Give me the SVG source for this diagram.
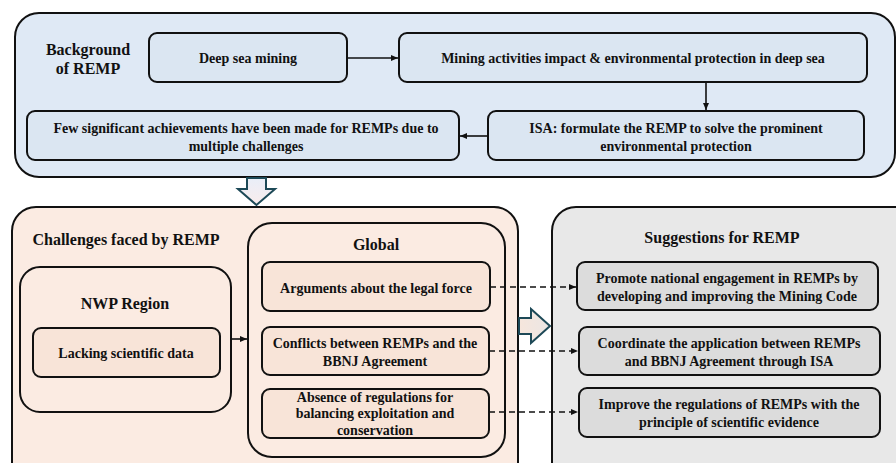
<svg xmlns="http://www.w3.org/2000/svg" width="896" height="463" viewBox="0 0 896 463">
<style>
text{font-family:"Liberation Serif","Times New Roman",serif;font-weight:bold;fill:#111;text-anchor:middle}
.t{font-size:14px}
.h{font-size:16px}
.blue{fill:#dfe9f5;stroke:#111;stroke-width:2}
.blueIn{fill:#dbe6f2;stroke:#111;stroke-width:2}
.peach{fill:#fbebe2;stroke:#111;stroke-width:2}
.peachIn{fill:#f8e4d8;stroke:#111;stroke-width:2}
.gray{fill:#e8e8e8;stroke:#111;stroke-width:2}
.grayIn{fill:#dcdcdc;stroke:#111;stroke-width:2}
.c{stroke:#111;stroke-width:1.6;fill:none}
.d{stroke:#111;stroke-width:1.6;fill:none;stroke-dasharray:6 4}
.blk{stroke:#1d4957;stroke-width:2}
</style>
<defs>
<marker id="ah" markerWidth="8" markerHeight="8" refX="7" refY="4" orient="auto" markerUnits="userSpaceOnUse">
<path d="M0,1 L7,4 L0,7 z" fill="#111"/>
</marker>
<linearGradient id="gDown" x1="0" y1="0" x2="0" y2="1">
<stop offset="0" stop-color="#e9eef8"/>
<stop offset="1" stop-color="#f9ecec"/>
</linearGradient>
<linearGradient id="gRight" x1="0" y1="0" x2="1" y2="0">
<stop offset="0" stop-color="#f6e6dc"/>
<stop offset="1" stop-color="#ebe6e4"/>
</linearGradient>
</defs>

<g id="background">
<rect class="blue" x="15" y="13" width="880" height="164" rx="24"/>
<text class="h" x="88" y="55">Background</text>
<text class="h" x="88" y="74">of REMP</text>
</g>
<g id="deep-sea">
<rect class="blueIn" x="149" y="33" width="198" height="49" rx="8"/>
<text class="t" x="248" y="63">Deep sea mining</text>
</g>
<g id="mining-impact">
<rect class="blueIn" x="399" y="33" width="468" height="49" rx="8"/>
<text class="t" x="633" y="63">Mining activities impact &amp; environmental protection in deep sea</text>
</g>
<g id="isa">
<rect class="blueIn" x="488" y="111" width="376" height="49" rx="8"/>
<text class="t" x="676" y="133">ISA: formulate the REMP to solve the prominent</text>
<text class="t" x="676" y="151">environmental protection</text>
</g>
<g id="few">
<rect class="blueIn" x="27" y="111" width="432" height="49" rx="8"/>
<text class="t" x="246" y="133">Few significant achievements have been made for REMPs due to</text>
<text class="t" x="246" y="151">multiple challenges</text>
</g>

<g id="challenges">
<rect class="peach" x="12" y="207" width="506" height="280" rx="24"/>
<text class="h" x="126" y="245">Challenges faced by REMP</text>
</g>
<g id="nwp">
<rect class="peach" x="20" y="267" width="211" height="145" rx="20"/>
<text class="h" x="125" y="309">NWP Region</text>
</g>
<g id="lacking">
<rect class="peachIn" x="33" y="328" width="187" height="49" rx="8"/>
<text class="t" x="126" y="358">Lacking scientific data</text>
</g>
<g id="global">
<rect class="peach" x="248" y="223" width="257" height="234" rx="24"/>
<text class="h" x="376" y="250">Global</text>
</g>
<g id="arguments">
<rect class="peachIn" x="262" y="262" width="228" height="49" rx="8"/>
<text class="t" x="376" y="293">Arguments about the legal force</text>
</g>
<g id="conflicts">
<rect class="peachIn" x="262" y="327" width="227" height="48" rx="8"/>
<text class="t" x="375" y="348">Conflicts between REMPs and the</text>
<text class="t" x="375" y="366">BBNJ Agreement</text>
</g>
<g id="absence">
<rect class="peachIn" x="262" y="389" width="227" height="49" rx="8"/>
<text class="t" x="375" y="402">Absence of regulations for</text>
<text class="t" x="375" y="418">balancing exploitation and</text>
<text class="t" x="375" y="435">conservation</text>
</g>

<g id="suggestions">
<rect class="gray" x="552" y="207" width="370" height="280" rx="24"/>
<text class="h" x="722" y="243">Suggestions for REMP</text>
</g>
<g id="promote">
<rect class="grayIn" x="577" y="262" width="301" height="48" rx="8"/>
<text class="t" x="727" y="283">Promote national engagement in REMPs by</text>
<text class="t" x="727" y="301">developing and improving the Mining Code</text>
</g>
<g id="coordinate">
<rect class="grayIn" x="579" y="327" width="301" height="48" rx="8"/>
<text class="t" x="729" y="348">Coordinate the application between REMPs</text>
<text class="t" x="729" y="366">and BBNJ Agreement through ISA</text>
</g>
<g id="improve">
<rect class="grayIn" x="579" y="388" width="301" height="49" rx="8"/>
<text class="t" x="729" y="409">Improve the regulations of REMPs with the</text>
<text class="t" x="729" y="427">principle of scientific evidence</text>
</g>

<g id="connectors">
<line class="c" x1="347" y1="58" x2="398" y2="58" marker-end="url(#ah)"/>
<line class="c" x1="706" y1="82" x2="706" y2="110" marker-end="url(#ah)"/>
<line class="c" x1="488" y1="136" x2="460" y2="136" marker-end="url(#ah)"/>
<line class="c" x1="231" y1="339" x2="247" y2="339" marker-end="url(#ah)"/>
<line class="d" x1="490" y1="287" x2="576" y2="287" marker-end="url(#ah)"/>
<line class="d" x1="489" y1="351" x2="578" y2="351" marker-end="url(#ah)"/>
<line class="d" x1="489" y1="412" x2="578" y2="412" marker-end="url(#ah)"/>
<path class="blk" fill="url(#gDown)" d="M247,178 L266,178 L266,189 L275,189 L256.5,205 L238,189 L247,189 Z"/>
<path class="blk" fill="url(#gRight)" d="M519,318 L531,318 L531,309 L550,326 L531,343 L531,334 L519,334 Z"/>
</g>
</svg>
